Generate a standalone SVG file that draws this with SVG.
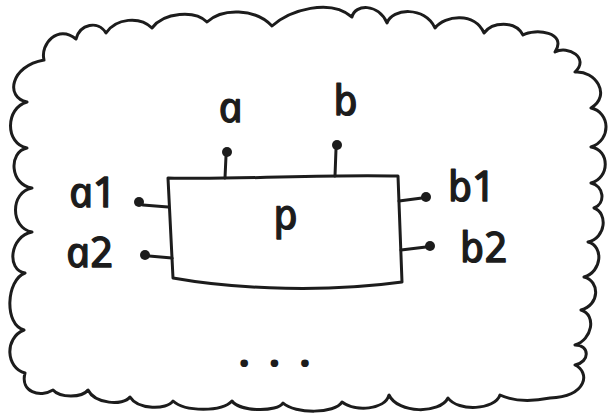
<svg xmlns="http://www.w3.org/2000/svg" width="611" height="419" viewBox="0 0 611 419">
  <style>
    .ink { fill: none; stroke: #1c1c1c; stroke-width: 3; stroke-linecap: round; stroke-linejoin: round; }
    .pin { fill: none; stroke: #1c1c1c; stroke-width: 3; stroke-linecap: round; }
    .dot { fill: #1c1c1c; }
    .lbl { font-family: "Noto Sans", "DejaVu Sans", sans-serif; font-style: italic; font-size: 42px; fill: #1c1c1c; stroke: #1c1c1c; stroke-width: 1.3; stroke-linejoin: round; text-anchor: middle; }
    .dots { font-family: "Noto Sans", "DejaVu Sans", sans-serif; font-weight: bold; font-size: 44px; fill: #1c1c1c; letter-spacing: 18px; }
  </style>
  <rect width="611" height="419" fill="#ffffff"/>

  <!-- surrounding cloud (the environment of the process) -->
  <g id="environment">
    <path class="ink" d="M44,60
      C40,44 58,24 76,39
      C80,24 98,20 106,33
      C116,18 140,16 152,28
      C164,12 195,10 207,22
      C222,8 255,8 272,26
      C290,10 330,-2 352,17
      C355,4 378,3 387,23
      C392,8 425,6 435,28
      C445,15 475,12 484,33
      C492,22 515,20 523,35
      C535,28 568,32 555,52
      C568,45 590,58 575,72
      C595,70 612,95 591,108
      C610,112 612,140 591,147
      C610,150 610,178 591,183
      C604,186 606,203 594,208
      C608,213 606,238 588,242
      C604,246 602,272 584,277
      C600,281 600,305 581,310
      C597,315 592,340 575,345
      C590,345 590,362 575,365
      C590,372 588,396 550,398
      C535,401 515,402 500,395
      C495,410 458,412 448,398
      C440,414 398,414 389,395
      C385,410 355,412 342,402
      C335,414 295,414 283,403
      C278,412 240,412 232,401
      C222,412 185,412 173,401
      C167,410 138,410 130,397
      C123,406 95,404 88,390
      C82,398 60,398 53,390
      C40,398 20,392 25,373
      C6,368 4,338 24,330
      C4,325 6,280 25,273
      C6,270 10,236 32,232
      C10,228 10,192 32,188
      C10,185 8,152 27,148
      C5,144 5,108 27,102
      C5,98 10,66 44,60 Z"/>
    <text class="dots" x="238" y="367">...</text>
  </g>

  <!-- the process box -->
  <g id="process-p">
    <path class="ink" d="M168,178 C240,180 320,174 398,176 L402,282 C330,292 240,290 173,278 Z"/>
    <text class="lbl" font-size="44" transform="translate(288,229) skewX(12)" x="0" y="0">p</text>
  </g>

  <!-- ports: stub line, end dot and name -->
  <g id="connectors">
    <g id="port-a">
      <path class="pin" d="M225,178 L226,156"/>
      <circle class="dot" cx="227" cy="152" r="5"/>
      <text class="lbl" transform="translate(233,122) skewX(12)">a</text>
    </g>
    <g id="port-b">
      <path class="pin" d="M335,176 L336,149"/>
      <circle class="dot" cx="337" cy="145" r="5"/>
      <text class="lbl" transform="translate(348,115) skewX(12)">b</text>
    </g>
    <g id="port-a1">
      <path class="pin" d="M143,205 L168,207"/>
      <circle class="dot" cx="139" cy="202" r="5"/>
      <text class="lbl" transform="translate(95,207) skewX(12)">a1</text>
    </g>
    <g id="port-a2">
      <path class="pin" d="M149,256 L172,258"/>
      <circle class="dot" cx="145" cy="255" r="5"/>
      <text class="lbl" transform="translate(92,267) skewX(12)">a2</text>
    </g>
    <g id="port-b1">
      <path class="pin" d="M399,201 L422,198"/>
      <circle class="dot" cx="426" cy="197" r="5"/>
      <text class="lbl" transform="translate(474,201) skewX(12)">b1</text>
    </g>
    <g id="port-b2">
      <path class="pin" d="M401,250 L426,247"/>
      <circle class="dot" cx="430" cy="246" r="5"/>
      <text class="lbl" transform="translate(486,262) skewX(12)">b2</text>
    </g>
  </g>
</svg>
